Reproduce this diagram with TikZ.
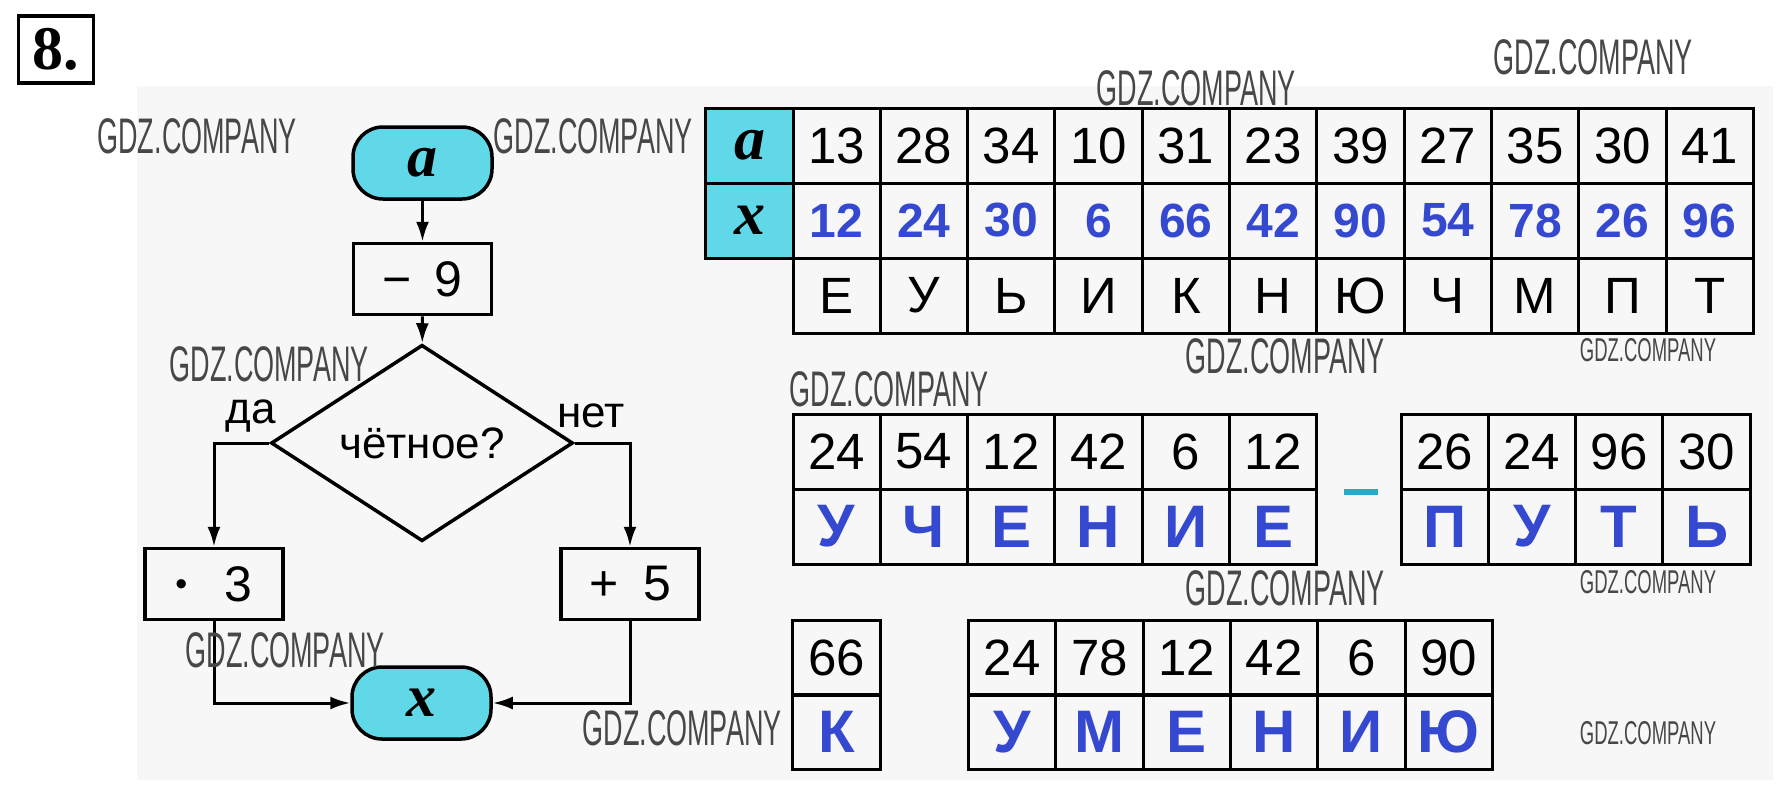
\documentclass[tikz,border=0pt]{standalone}
\usepackage{fontspec}
\setmainfont{Liberation Sans}
\newfontfamily\serifbi{Liberation Serif}
\usetikzlibrary{shapes.geometric,arrows.meta}
\definecolor{tcyan}{RGB}{96,216,232}
\definecolor{tblue}{RGB}{52,72,208}
\definecolor{dashc}{RGB}{40,170,200}
\definecolor{bgray}{RGB}{247,247,247}
\tikzset{
  cell/.style={draw, line width=3pt, minimum width=87.3pt, minimum height=75pt, inner sep=0pt, font=\fontsize{51}{54}\selectfont},
  hcell/.style={cell, fill=tcyan, font=\serifbi\bfseries\itshape\fontsize{62}{66}\selectfont},
  bcell/.style={cell, text=tblue, font=\bfseries\fontsize{48}{52}\selectfont},
  lcell/.style={cell, text=tblue, font=\bfseries\fontsize{60}{64}\selectfont},
  term/.style={draw, fill=tcyan, line width=3.5pt, rounded corners=30pt, minimum width=139pt, minimum height=72pt, inner sep=0pt, font=\serifbi\bfseries\itshape\fontsize{60}{64}\selectfont},
  opbox/.style={draw, line width=3.5pt, minimum width=138pt, minimum height=71pt, inner sep=0pt, font=\fontsize{50}{54}\selectfont},
  cond/.style={draw, diamond, line width=3.5pt, minimum width=302pt, minimum height=162pt, inner sep=0pt, font=\fontsize{44}{48}\selectfont},
  lbl/.style={inner sep=0pt, font=\fontsize{44}{48}\selectfont},
  flow/.style={line width=3pt, -{Latex[length=20pt,width=13pt]}},
  wm/.style={inner sep=0pt, text=black!72, font=\fontsize{50}{50}\selectfont},
  wms/.style={inner sep=0pt, text=black!72, font=\fontsize{33}{33}\selectfont}
}
\newcommand{\wmtext}{\scalebox{0.54}[1]{GDZ.COMPANY}}
\newcommand{\wmtexts}{\scalebox{0.56}[1]{GDZ.COMPANY}}
\begin{document}
\begin{tikzpicture}[x=1pt,y=-1pt]
\useasboundingbox (0,0) rectangle (1785,785);
\fill[white] (0,0) rectangle (1785,785);
\fill[bgray] (137,86) rectangle (1773,780);

% number box
\node[draw, line width=3.5pt, minimum width=75pt, minimum height=67pt, inner sep=0pt,
      font=\serifbi\bfseries\fontsize{62}{66}\selectfont] (num) at (56,49.5) {8.};

% flowchart
\node[term] (a) at (422.5,163) {a};
\node[opbox] (m9) at (422.5,279) {−\hspace{0.45em}9};
\node[cond] (c) at (422,443) {чётное?};
\node[opbox] (mul) at (214,584) {\raisebox{6pt}{\fontsize{34}{34}\selectfont •}\hspace{0.75em}3};
\node[opbox] (pl) at (630,584) {+\hspace{0.5em}5};
\node[term] (x) at (421.5,703) {x};
\node[lbl] (da) at (251,416) {да};
\node[lbl] (net) at (591,416) {нет};

\draw[flow] (a) -- (m9);
\draw[flow] (m9) -- (c);
\draw[flow] (c.west) -| (mul.north);
\draw[flow] (c.east) -| (pl.north);
\draw[flow] (mul.south) |- (x.west);
\draw[flow] (pl.south) |- (x.east);

% main table
\node[hcell] (ha) at (749.5,145.5) {a};
\node[hcell] (hx) at (749.5,220.5) {x};
\foreach \v [count=\i from 0] in {13,28,34,10,31,23,39,27,35,30,41}
  \node[cell] (ta\i) at ({793+87.3*(\i+0.5)},145.5) {\v};
\foreach \v [count=\i from 0] in {12,24,30,6,66,42,90,54,78,26,96}
  \node[bcell] (tx\i) at ({793+87.3*(\i+0.5)},220.5) {\v};
\foreach \v [count=\i from 0] in {Е,У,Ь,И,К,Н,Ю,Ч,М,П,Т}
  \node[cell] (tl\i) at ({793+87.3*(\i+0.5)},295.5) {\v};

% учение
\foreach \v [count=\i from 0] in {24,54,12,42,6,12}
  \node[cell] (ua\i) at ({793+87.3*(\i+0.5)},451.5) {\v};
\foreach \v [count=\i from 0] in {У,Ч,Е,Н,И,Е}
  \node[lcell] (ub\i) at ({793+87.3*(\i+0.5)},526.5) {\v};
% dash
\node[inner sep=0pt] (dash) at (1361,492) {\color{dashc}\rule{34pt}{6pt}};
% путь
\foreach \v [count=\i from 0] in {26,24,96,30}
  \node[cell] (pa\i) at ({1401+87.3*(\i+0.5)},451.5) {\v};
\foreach \v [count=\i from 0] in {П,У,Т,Ь}
  \node[lcell] (pb\i) at ({1401+87.3*(\i+0.5)},526.5) {\v};
% к
\node[cell] (ka) at (836.6,658) {66};
\node[lcell] (kb) at (836.6,732) {К};
% умению
\foreach \v [count=\i from 0] in {24,78,12,42,6,90}
  \node[cell] (ma\i) at ({968.6+87.3*(\i+0.5)},658) {\v};
\foreach \v [count=\i from 0] in {У,М,Е,Н,И,Ю}
  \node[lcell] (mb\i) at ({968.6+87.3*(\i+0.5)},732) {\v};

% watermarks
\node[wm] (w1) at (197,136) {\wmtext};
\node[wm] (w2) at (593,136) {\wmtext};
\node[wm] (w3) at (1196,88) {\wmtext};
\node[wm] (w4) at (1593,57) {\wmtext};
\node[wm] (w5) at (269,364) {\wmtext};
\node[wm] (w6) at (1285,356) {\wmtext};
\node[wms] (w7) at (1648,350) {\wmtexts};
\node[wm] (w8) at (889,389) {\wmtext};
\node[wm] (w9) at (1285,588) {\wmtext};
\node[wms] (w10) at (1648,582) {\wmtexts};
\node[wm] (w11) at (285,650) {\wmtext};
\node[wm] (w12) at (682,728) {\wmtext};
\node[wms] (w13) at (1648,733) {\wmtexts};
\end{tikzpicture}
\end{document}
